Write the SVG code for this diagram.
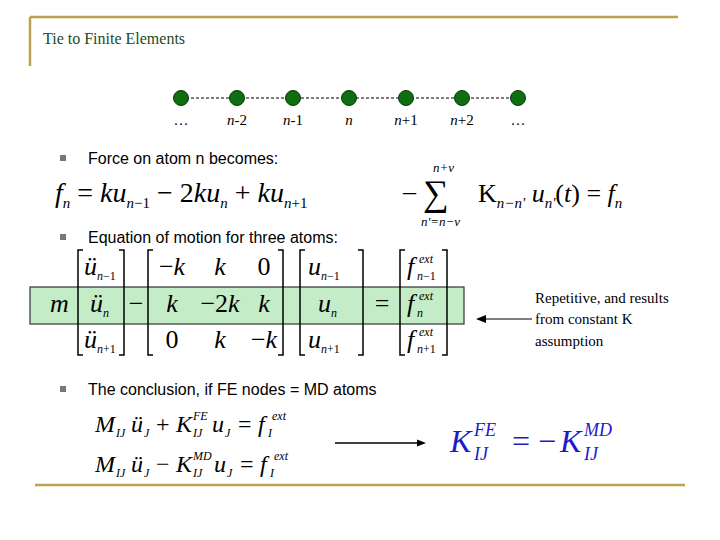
<svg xmlns="http://www.w3.org/2000/svg" width="720" height="540" viewBox="0 0 720 540">
<style>
.m{font-family:"Liberation Serif",serif;font-style:italic;font-size:26px;fill:#000}
.r{font-style:normal}
.s{font-size:15px}
.t{font-size:12px}
.b{font-family:"Liberation Sans",sans-serif;font-size:16px;fill:#000}
.lb{font-family:"Liberation Serif",serif;font-size:15px;fill:#000}
.br{fill:none;stroke:#000;stroke-width:1.5}
</style>
<rect width="720" height="540" fill="#fff"/>
<g id="frame" stroke="#b8a24a" stroke-width="2.5">
<line x1="30" y1="17" x2="678" y2="17"/><line x1="30" y1="17" x2="30" y2="66"/>
<line x1="35" y1="485" x2="685" y2="485"/>
</g>
<text x="43" y="44" font-family="Liberation Serif,serif" font-size="16" fill="#1a4a2a">Tie to Finite Elements</text>
<g id="connectors" stroke="#000" stroke-dasharray="3,2" stroke-width="1">
<line x1="181" y1="98" x2="518" y2="98"/>
</g>
<g fill="#0f6e0f" stroke="#063a06">
<circle id="a1" cx="181" cy="98" r="7.5"/><circle id="a2" cx="237" cy="98" r="7.5"/><circle id="a3" cx="293" cy="98" r="7.5"/><circle id="a4" cx="349" cy="98" r="7.5"/><circle id="a5" cx="406" cy="98" r="7.5"/><circle id="a6" cx="462" cy="98" r="7.5"/><circle id="a7" cx="518" cy="98" r="7.5"/>
</g>
<g class="lb" text-anchor="middle">
<text x="181" y="125">…</text><text x="237" y="125"><tspan font-style="italic">n</tspan>-2</text><text x="293" y="125"><tspan font-style="italic">n</tspan>-1</text><text x="349" y="125" font-style="italic">n</text><text x="406" y="125"><tspan font-style="italic">n</tspan>+1</text><text x="462" y="125"><tspan font-style="italic">n</tspan>+2</text><text x="518" y="125">…</text>
</g>
<g fill="#777"><rect x="60" y="155" width="6" height="6"/><rect x="60" y="234" width="6" height="6"/><rect x="60" y="386" width="6" height="6"/></g>
<text class="b" x="88" y="164">Force on atom n becomes:</text>
<text class="b" x="88" y="243">Equation of motion for three atoms:</text>
<text class="b" x="88" y="395">The conclusion, if FE nodes = MD atoms</text>
<text class="m" x="55" y="202" style="font-size:28px">f<tspan class="s" dy="6">n</tspan><tspan class="r" dy="-6"> = </tspan>ku<tspan class="s" dy="6">n</tspan><tspan class="s r" >−1</tspan><tspan class="r" dy="-6"> − 2</tspan>ku<tspan class="s" dy="6">n</tspan><tspan class="r" dy="-6"> + </tspan>ku<tspan class="s" dy="6">n</tspan><tspan class="s r">+1</tspan></text>
<text class="m r" x="403" y="200">–</text>
<text class="m r" x="423" y="205" style="font-size:36px">∑</text>
<text class="m s" x="433" y="172" style="font-size:13px">n+ν</text>
<text class="m s" x="421" y="226" style="font-size:13px">n'=n−ν</text>
<text class="m" x="478" y="202"><tspan class="r">K</tspan><tspan class="s" dy="6">n−n'</tspan><tspan dy="-6"> u</tspan><tspan class="s" dy="6">n'</tspan><tspan class="r" dy="-6">(</tspan>t<tspan class="r">) = </tspan>f<tspan class="s" dy="6">n</tspan></text>
<rect x="30" y="287" width="434" height="37" fill="#c4ecc6" stroke="#333" stroke-width="1.2"/>
<g id="matrix">
<path class="br" d="M83,250h-5v105h5M119,250h5v105h-5"/>
<path class="br" d="M153,250h-5v105h5M278,250h5v105h-5"/>
<path class="br" d="M305,250h-5v105h5M358,250h5v105h-5"/>
<path class="br" d="M405,250h-5v105h5M442,250h5v105h-5"/>
<text class="m" x="50" y="312">m</text>
<text class="m" x="84" y="275">ü<tspan class="t" dy="5">n</tspan><tspan class="t r">−1</tspan></text>
<text class="m" x="90" y="312">ü<tspan class="t" dy="5">n</tspan></text>
<text class="m" x="84" y="348">ü<tspan class="t" dy="5">n</tspan><tspan class="t r">+1</tspan></text>
<text class="m r" x="136" y="312" text-anchor="middle">−</text>
<g text-anchor="middle">
<text class="m" x="172" y="275"><tspan class="r">−</tspan>k</text><text class="m" x="220" y="275">k</text><text class="m r" x="264" y="275">0</text>
<text class="m" x="172" y="312">k</text><text class="m" x="220" y="312"><tspan class="r">−2</tspan>k</text><text class="m" x="264" y="312">k</text>
<text class="m r" x="172" y="348">0</text><text class="m" x="220" y="348">k</text><text class="m" x="264" y="348"><tspan class="r">−</tspan>k</text>
</g>
<text class="m" x="308" y="275">u<tspan class="t" dy="5">n</tspan><tspan class="t r">−1</tspan></text>
<text class="m" x="318" y="312">u<tspan class="t" dy="5">n</tspan></text>
<text class="m" x="308" y="348">u<tspan class="t" dy="5">n</tspan><tspan class="t r">+1</tspan></text>
<text class="m r" x="382" y="312" text-anchor="middle">=</text>
<text class="m" x="407" y="275">f</text><text class="m t" x="417" y="280">n<tspan class="r">−1</tspan></text><text class="m t" x="419" y="263">ext</text>
<text class="m" x="407" y="312">f</text><text class="m t" x="417" y="317">n</text><text class="m t" x="419" y="300">ext</text>
<text class="m" x="407" y="348">f</text><text class="m t" x="417" y="353">n<tspan class="r">+1</tspan></text><text class="m t" x="419" y="336">ext</text>
</g>
<g id="note">
<line x1="478" y1="319" x2="532" y2="319" stroke="#000" stroke-width="1.2"/>
<path d="M476,319l10,-4v8z"/>
<text class="lb" x="535" y="303">Repetitive, and results</text>
<text class="lb" x="535" y="324">from constant K</text>
<text class="lb" x="535" y="346">assumption</text>
</g>
<g class="m" style="font-size:24px">
<text x="95" y="432">M</text><text class="t" x="116" y="437">IJ</text><text x="131" y="432">ü</text><text class="t" x="144" y="437">J</text><text class="r" x="156" y="432">+</text>
<text x="176" y="432">K</text><text class="t" x="193" y="437">IJ</text><text class="t" x="193" y="420">FE</text><text x="212" y="432">u</text><text class="t" x="225" y="437">J</text><text class="r" x="238" y="432">=</text>
<text x="258" y="432">f</text><text class="t" x="268" y="437">I</text><text class="t" x="272" y="420">ext</text>
<text x="95" y="472">M</text><text class="t" x="116" y="477">IJ</text><text x="131" y="472">ü</text><text class="t" x="144" y="477">J</text><text class="r" x="156" y="472">−</text>
<text x="176" y="472">K</text><text class="t" x="193" y="477">IJ</text><text class="t" x="193" y="460">MD</text><text x="214" y="472">u</text><text class="t" x="227" y="477">J</text><text class="r" x="240" y="472">=</text>
<text x="260" y="472">f</text><text class="t" x="270" y="477">I</text><text class="t" x="274" y="460">ext</text>
</g>
<line x1="335" y1="443" x2="418" y2="443" stroke="#000" stroke-width="1.5"/>
<path d="M426,443l-9,-3.5v7z"/>
<g class="m" style="font-size:32px;fill:#1a1acc">
<text x="450" y="452">K</text><text x="474" y="460" style="font-size:18px">IJ</text><text x="474" y="436" style="font-size:18px">FE</text>
<text class="r" x="512" y="452">= −</text><text x="560" y="452">K</text><text x="584" y="460" style="font-size:18px">IJ</text><text x="584" y="436" style="font-size:18px">MD</text>
</g>
</svg>
